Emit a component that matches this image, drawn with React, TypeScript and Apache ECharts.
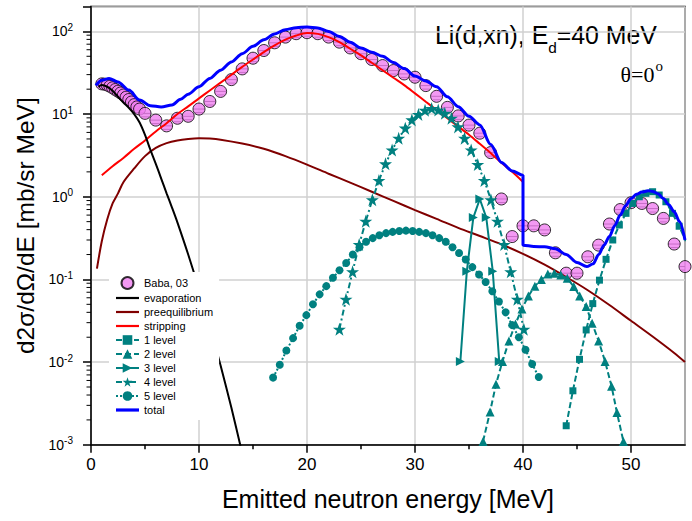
import React, { useEffect, useRef } from 'react';
import * as echarts from 'echarts';

// ---------- data ----------
// Experimental points (Baba, 03)
const dataE = [1.0, 1.25, 1.5, 1.75, 2.0, 2.25, 2.5, 2.75, 3.0, 3.25, 3.5, 3.75, 4.0, 4.25, 4.5,
  5, 6, 7, 8, 9, 10, 11, 12, 13, 14, 15, 16, 17, 18, 19, 20, 21, 22, 23, 24, 25, 26, 27, 28, 29, 30,
  31, 32, 33, 34, 35, 36, 37, 38, 39, 40, 41, 42, 43, 44, 45, 46, 47, 48, 49, 50, 51, 52, 53, 54, 55];
const dataV = [23.2, 23.0, 22.5, 21.7, 20.8, 19.8, 18.9, 18.0, 17.0, 16.0, 15.0, 14.0, 13.0, 12.2, 11.5,
  10.2, 8.45, 7.2, 8.9, 9.4, 11.5, 14.2, 18.8, 26.1, 35.2, 47.4, 58.7, 72.8, 85.3, 93.8, 96.4, 93.8, 85.3, 74.1, 63.1, 53.7, 45.7, 38.6, 33.6, 30.6, 27.9,
  22.1, 16.4, 12.05, 9.5, 7.35, 5.87, 3.42, 0.94, 0.33, 0.445, 0.445, 0.397, 0.21, 0.119, 0.119, 0.188, 0.26, 0.468, 0.70, 0.847, 0.83, 0.72, 0.547, 0.268, 0.143];

// evaporation
const evapE = [0.7, 1.0, 1.5, 2.0, 2.5, 3.0, 3.5, 4.0, 4.5, 5.0, 5.5, 6.0, 6.5, 7.0, 7.5, 8.0, 9.0, 10, 11, 12, 13, 14];
const evapV = [21.4, 22.4, 21.4, 19.1, 16.2, 13.8, 11.9, 10.0, 7.9, 5.6, 3.7, 2.5, 1.66, 1.1, 0.74, 0.49, 0.2, 0.076, 0.027, 0.0091, 0.0028, 0.00079];

// preequilibrium
const preE = [0.55, 1, 1.5, 2, 2.5, 3, 4, 5, 6, 7, 8, 9, 10, 11, 12, 14, 16, 18, 20, 22, 24, 26, 28, 30, 32, 34, 36, 38, 40, 42, 44, 46, 48, 50, 52, 54, 55];
const preV = [0.135, 0.29, 0.53, 0.83, 1.1, 1.5, 2.2, 3.1, 3.9, 4.45, 4.8, 5.0, 5.1, 5.05, 4.9, 4.4, 3.8, 3.1, 2.45, 1.9, 1.48, 1.15, 0.89, 0.69, 0.54, 0.42, 0.335, 0.266, 0.204, 0.151, 0.107, 0.074, 0.049, 0.0316, 0.0204, 0.0129, 0.01];

// stripping
const stripE = [1, 2, 3, 4, 5, 6, 7, 8, 9, 10, 11, 12, 13, 14, 15, 16, 17, 18, 19, 20,
  21, 22, 23, 24, 25, 26, 27, 28, 29, 30, 31, 32, 33, 34, 35, 36, 37, 38, 39, 40];
const stripV = [1.82, 2.34, 2.95, 3.8, 4.79, 6.17, 7.76, 10.0, 12.4, 15.5, 19.3, 24.0, 29.9, 37.2, 45.7, 56.2, 67.6, 79.4, 89.1, 95.5,
  93.3, 85.1, 74.1, 61.7, 51.3, 41.7, 33.9, 27.5, 22.4, 17.8, 14.1, 11.2, 8.91, 7.08, 5.62, 4.37, 3.39, 2.57, 2.0, 1.51];

// discrete levels
const l1E = [44.0, 44.62, 45.23, 45.85, 46.46, 47.08, 47.69, 48.31, 48.92, 49.54, 50.15, 50.77, 51.38, 52.0, 52.61, 53.23, 53.84, 54.46, 55.07];
const l1V = [0.0017, 0.0045, 0.0108, 0.0245, 0.051, 0.098, 0.175, 0.30, 0.455, 0.63, 0.83, 1.0, 1.1, 1.15, 1.05, 0.87, 0.63, 0.44, 0.29];

const l2E = [36.3, 36.95, 37.5, 38.1, 38.7, 39.3, 39.9, 40.5, 41.1, 41.7, 42.3, 42.9, 43.5, 44.1, 44.7, 45.25, 45.85, 46.4, 47.0, 47.6, 48.2, 48.7, 49.3];
const l2V = [0.0011, 0.0025, 0.0054, 0.0102, 0.018, 0.029, 0.044, 0.063, 0.083, 0.1, 0.116, 0.119, 0.113, 0.103, 0.082, 0.063, 0.047, 0.0295, 0.018, 0.0102, 0.0051, 0.00245, 0.0011];

const l3E = [34.2, 34.8, 35.4, 36.0, 36.6, 37.2, 37.8];
const l3V = [0.0102, 0.126, 0.56, 0.94, 0.56, 0.126, 0.0102];

const l4E = [23.0, 23.61, 24.22, 24.83, 25.44, 26.05, 26.66, 27.27, 27.88, 28.49, 29.1, 29.71, 30.32, 30.93, 31.54,
  32.15, 32.76, 33.37, 33.98, 34.59, 35.2, 35.81, 36.42, 37.03, 37.64, 38.25, 38.86, 39.47, 40.08];
const l4V = [0.025, 0.0575, 0.124, 0.264, 0.505, 0.92, 1.57, 2.5, 3.68, 5.1, 6.76, 8.5, 9.9, 11.1, 11.7,
  11.2, 10.2, 8.9, 7.0, 5.1, 3.68, 2.45, 1.57, 0.92, 0.505, 0.264, 0.124, 0.0575, 0.025];

const l5E = [16.86, 17.48, 18.09, 18.71, 19.32, 19.94, 20.55, 21.17, 21.78, 22.4, 23.01, 23.63, 24.24, 24.86, 25.47, 26.09, 26.7, 27.32, 27.93, 28.55,
  29.16, 29.78, 30.39, 31.01, 31.62, 32.24, 32.85, 33.47, 34.08, 34.7, 35.31, 35.93, 36.54, 37.16, 37.77, 38.39, 39.0, 39.62, 40.23, 40.85, 41.46];
const l5V = [0.0065, 0.0093, 0.0138, 0.0195, 0.0275, 0.037, 0.05, 0.066, 0.083, 0.105, 0.129, 0.158, 0.2, 0.245, 0.285, 0.316, 0.343, 0.363, 0.376, 0.385,
  0.389, 0.385, 0.376, 0.363, 0.343, 0.316, 0.285, 0.245, 0.209, 0.174, 0.141, 0.115, 0.093, 0.072, 0.054, 0.04, 0.028, 0.02, 0.0141, 0.0095, 0.0066];

// total
const totE = [0.45, 1.0, 1.67, 2.5, 3.5, 4.5, 5.5, 6.5, 7.5, 8.3, 9, 10, 11, 12, 13, 14, 15, 16, 17, 18, 19, 20,
  21, 22, 23, 24, 25, 26, 27, 28, 29, 30, 31, 32, 33, 34, 35, 36, 37, 38, 39, 40, 40,
  41, 42, 43, 44, 45, 45.9, 46.5, 47, 47.5, 48, 48.5, 49, 49.5, 50, 50.5, 51, 51.6, 52, 52.5, 53, 53.5, 54, 54.5, 55];
const totV = [22.2, 25.7, 27, 24.5, 19.5, 14.8, 12.6, 12.2, 12.9, 15.1, 17.4, 21.4, 27, 34, 42.7, 53.7, 66, 79, 93, 105, 111, 113,
  110, 100, 87, 74, 63, 56, 50, 42, 35.5, 28.8, 25.1, 21.4, 16.2, 12.3, 9.4, 7.4, 4.3, 2.6, 2.05, 1.82, 0.26,
  0.25, 0.248, 0.235, 0.2, 0.16, 0.143, 0.155, 0.2, 0.26, 0.33, 0.45, 0.6, 0.78, 0.95, 1.07, 1.14, 1.18, 1.16, 1.09, 0.95, 0.8, 0.66, 0.5, 0.3];

// axis ticks
const xMajor = [0, 10, 20, 30, 40, 50];
const xMinor = [5, 15, 25, 35, 45];
const yDecades = [-3, -2, -1, 0, 1];
const yMinorMult = [2, 3, 4, 5, 6, 7, 8, 9];

const legendNames = ['Baba, 03', 'evaporation', 'preequilibrium', 'stripping', '1 level', '2 level', '3 level', '4 level', '5 level', 'total'];
const plainLines = ['evaporation', 'preequilibrium', 'stripping'];

// ---------- styling ----------
const FONT = '"Liberation Sans", Arial, Helvetica, sans-serif';
const SERIF = '"Liberation Serif", "Times New Roman", serif';
const TEAL = '#008080';
const STAR = 'path://M50,2 L61.8,38.2 L99,38.2 L69,60.6 L80.3,96.8 L50,74.4 L19.7,96.8 L31,60.6 L1,38.2 L38.2,38.2 Z';
const BAR2 = 'path://M0,0 L23,0 L23,2.2 L0,2.2 Z';
const BAR3 = 'path://M0,0 L23,0 L23,3.2 L0,3.2 Z';

const pairs = (xs: number[], ys: number[]) => xs.map((x, i) => [x, ys[i]]);

function measure(text: string, size: number, family: string): number {
  const c = document.createElement('canvas').getContext('2d');
  if (!c) return text.length * size * 0.55;
  c.font = `${size}px ${family}`;
  return c.measureText(text).width;
}

export default function App() {
  const ref = useRef<HTMLDivElement>(null);
  useEffect(() => {
    if (!ref.current) return;
    const chart = echarts.init(ref.current, null, { renderer: 'svg' });

    // annotation "Li(d,xn), Ed=40 MeV"
    const aLeft = 435, aRight = 657;
    const base = 24;
    const w0 = measure('Li(d,xn), E', base, FONT) + measure('d', base * 0.62, FONT) + measure('=40 MeV', base, FONT);
    const S = base * (aRight - aLeft) / w0;
    const s = S * 0.62;
    const wA = measure('Li(d,xn), E', S, FONT);
    const wD = measure('d', s, FONT);
    const baseY = 44.5;

    const thS = 22, thSup = 15;
    const wTh = measure('θ=0', thS, SERIF);
    const wO = measure('o', thSup, SERIF);
    const thRight = 663;
    const thLeft = thRight - wTh - wO - 1;

    const levelLine = (name: string, E: number[], V: number[], symbol: string, size: number, type: any, rotate = 0) => ({
      name, type: 'line', data: pairs(E, V), symbol, symbolSize: size, symbolRotate: rotate,
      showSymbol: true, smooth: false,
      lineStyle: { color: TEAL, width: 2, type },
      itemStyle: { color: TEAL, borderColor: TEAL, borderWidth: 0 },
      z: 3,
    });
    const curve = (name: string, E: number[], V: number[], color: string, width: number, mono: boolean) => ({
      name, type: 'line', data: pairs(E, V), showSymbol: false, symbol: 'none', smooth: 0.3,
      ...(mono ? { smoothMonotone: 'x' } : {}),
      lineStyle: { color, width }, itemStyle: { color }, z: name === 'total' ? 4 : 3,
    });

    const legendData = legendNames.map((n) => {
      if (plainLines.indexOf(n) >= 0) return { name: n, icon: BAR2 };
      if (n === 'total') return { name: n, icon: BAR3 };
      return { name: n };
    });

    const option: any = {
      animation: false,
      backgroundColor: '#ffffff',
      textStyle: { fontFamily: FONT },
      grid: { left: 91, right: 7, top: 6.5, bottom: 76.2, show: true, borderColor: '#000', borderWidth: 1.5, backgroundColor: 'transparent' },
      xAxis: {
        type: 'value', min: 0, max: 55, interval: 10,
        axisLine: { show: true, onZero: false, lineStyle: { color: '#000', width: 1.5 } },
        axisTick: { show: true, length: 8, lineStyle: { color: '#000', width: 1.5 } },
        axisLabel: { fontSize: 17, color: '#000', fontFamily: FONT, margin: 11, showMaxLabel: false,
          formatter: (v: number) => (xMajor.indexOf(v) >= 0 ? String(v) : '') },
        splitLine: { show: true, lineStyle: { color: '#d0d0d0', width: 1.5 } },
        name: 'Emitted neutron energy [MeV]', nameLocation: 'middle', nameGap: 42,
        nameTextStyle: { fontSize: 25, fontFamily: FONT, color: '#000' },
      },
      yAxis: {
        type: 'log', logBase: 10, min: 0.001, max: 200,
        axisLine: { show: true, onZero: false, lineStyle: { color: '#000', width: 1.5 } },
        axisTick: { show: true, length: 8, lineStyle: { color: '#000', width: 1.5 } },
        axisLabel: {
          margin: 18, color: '#000', fontFamily: FONT,
          formatter: (v: number) => {
            const l = Math.log10(v); const r = Math.round(l);
            if (Math.abs(l - r) > 1e-6 || r > 2) return '';
            return `{b|10}{s|${r}}`;
          },
          rich: {
            b: { fontSize: 14, fontFamily: FONT, color: '#000' },
            s: { fontSize: 10, fontFamily: FONT, color: '#000', padding: [0, 0, 8, 0] },
          },
        },
        splitLine: { show: true, lineStyle: { color: '#d0d0d0', width: 1.5 } },
        name: 'd2σ/dΩ/dE [mb/sr MeV]', nameLocation: 'middle', nameGap: 48, nameRotate: 90,
        nameTextStyle: { fontSize: 24.5, fontFamily: FONT, color: '#000' },
      },
      legend: {
        show: true, orient: 'vertical', left: 109, top: 272, data: legendData,
        itemWidth: 23, itemHeight: 12, itemGap: 2, padding: [4, 6, 4, 6],
        backgroundColor: '#ffffff', selectedMode: false,
        textStyle: { fontSize: 11, fontFamily: FONT, color: '#000', lineHeight: 12 },
      },
      graphic: [
        { type: 'text', x: aLeft, y: baseY - 0.3465 * S, style: { text: 'Li(d,xn), E', fontSize: S, fontFamily: FONT, fill: '#000', align: 'left', verticalAlign: 'middle', textAlign: 'left', textVerticalAlign: 'middle' } },
        { type: 'text', x: aLeft + wA, y: 53.3 - 0.3465 * s, style: { text: 'd', fontSize: s, fontFamily: FONT, fill: '#000', align: 'left', verticalAlign: 'middle', textAlign: 'left', textVerticalAlign: 'middle' } },
        { type: 'text', x: aLeft + wA + wD, y: baseY - 0.3465 * S, style: { text: '=40 MeV', fontSize: S, fontFamily: FONT, fill: '#000', align: 'left', verticalAlign: 'middle', textAlign: 'left', textVerticalAlign: 'middle' } },
        { type: 'text', x: thLeft, y: 81.7 - 0.3375 * thS, style: { text: 'θ=0', fontSize: thS, fontFamily: SERIF, fill: '#000', align: 'left', verticalAlign: 'middle', textAlign: 'left', textVerticalAlign: 'middle' } },
        { type: 'text', x: thLeft + wTh + 1, y: 71.5 - 0.3375 * thSup, style: { text: 'o', fontSize: thSup, fontFamily: SERIF, fill: '#000', align: 'left', verticalAlign: 'middle', textAlign: 'left', textVerticalAlign: 'middle' } },
      ],
      series: [
        {
          name: 'Baba, 03', type: 'scatter', data: pairs(dataE, dataV), symbol: 'circle', symbolSize: 12,
          itemStyle: { color: '#f080f0', borderColor: '#000', borderWidth: 1 }, z: 2,
        },
        {
          name: 'errbars', type: 'custom', data: pairs(dataE, dataV), silent: true, z: 2, clip: true,
          renderItem: (_p: any, api: any) => {
            const c = api.coord([api.value(0), api.value(1)]);
            return {
              type: 'group', children: [
                { type: 'line', shape: { x1: c[0] - 5.5, y1: c[1], x2: c[0] + 5.5, y2: c[1] }, style: { stroke: '#222', lineWidth: 1 } },
                { type: 'line', shape: { x1: c[0] - 4, y1: c[1] + 3.5, x2: c[0] + 4, y2: c[1] + 3.5 }, style: { stroke: '#222', lineWidth: 1 } },
              ],
            };
          },
        },
        curve('preequilibrium', preE, preV, '#800000', 2, false),
        curve('stripping', stripE, stripV, '#ff0000', 2, false),
        curve('evaporation', evapE, evapV, '#000000', 2, false),
        levelLine('1 level', l1E, l1V, 'rect', 7, [6, 3]),
        levelLine('2 level', l2E, l2V, 'triangle', 9, [6, 3]),
        levelLine('3 level', l3E, l3V, 'triangle', 9, 'solid', -90),
        levelLine('4 level', l4E, l4V, STAR, 13, [6, 3, 2, 3]),
        levelLine('5 level', l5E, l5V, 'circle', 8, [2, 2]),
        curve('total', totE, totV, '#0000ff', 3, true),
        {
          name: 'minorTicks', type: 'custom', data: [[0, 1]], silent: true, clip: false, z: 5,
          renderItem: (_p: any, api: any) => {
            const children: any[] = [];
            yDecades.forEach((d) => {
              yMinorMult.forEach((m) => {
                const c = api.coord([0, m * Math.pow(10, d)]);
                children.push({ type: 'line', shape: { x1: c[0] - 4.5, y1: c[1], x2: c[0], y2: c[1] }, style: { stroke: '#000', lineWidth: 1 } });
              });
            });
            xMinor.forEach((e) => {
              const c = api.coord([e, 0.001]);
              children.push({ type: 'line', shape: { x1: c[0], y1: c[1], x2: c[0], y2: c[1] + 4.5 }, style: { stroke: '#000', lineWidth: 1.5 } });
            });
            return { type: 'group', children };
          },
        },
      ],
    };
    chart.setOption(option);
    return () => chart.dispose();
  }, []);
  return <div ref={ref} style={{ position: 'fixed', left: 0, top: 0, width: 692, height: 521 }} />;
}
